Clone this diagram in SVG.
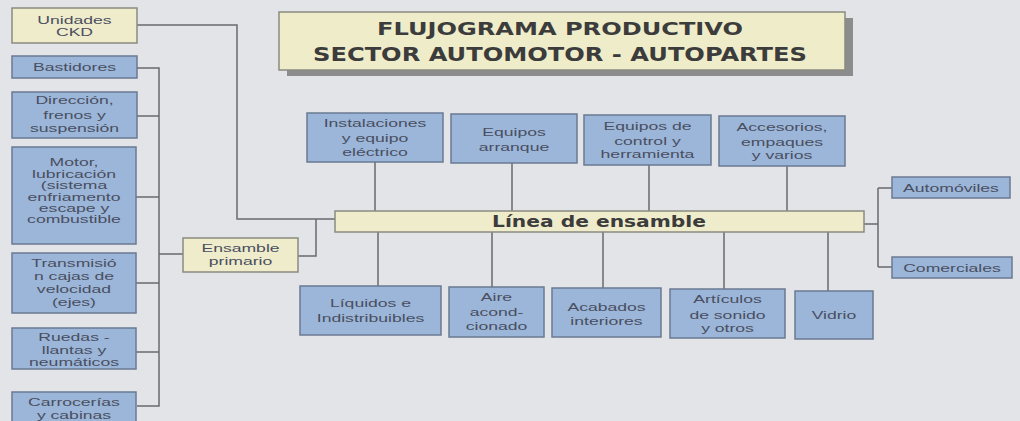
<svg xmlns="http://www.w3.org/2000/svg" width="1020" height="421" viewBox="0 0 1020 421">
<style>
.bg{fill:#e3e4e8}
.blue{fill:#9bb6d9;stroke:#6a7a92;stroke-width:1.5}
.yel{fill:#efeccb;stroke:#8a8a80;stroke-width:1.5}
.t{font-family:"Liberation Sans",Arial,sans-serif;font-size:11px;fill:#4a4e60;text-anchor:middle}
.conn path{fill:none;stroke:#6a6a6e;stroke-width:1.5}
.title{font-family:"DejaVu Sans","Liberation Sans",sans-serif;font-weight:bold;fill:#3c3c3c;text-anchor:middle}
</style>
<rect class="bg" x="0" y="0" width="1020" height="421"/>

<g id="connectors" class="conn">
<path d="M137,25 H237 V219 H335"/>
<path d="M298,256 H316 V219"/>
<path d="M137,68 H159 V406 H137"/>
<path d="M137,116 H159"/>
<path d="M136,197 H159"/>
<path d="M136,283 H159"/>
<path d="M136,352 H159"/>
<path d="M159,254 H183"/>
<path d="M375,162 V211"/>
<path d="M512,163 V211"/>
<path d="M649,165 V212"/>
<path d="M787,166 V212"/>
<path d="M378,231 V286"/>
<path d="M492,231 V287"/>
<path d="M603,232 V288"/>
<path d="M724,232 V289"/>
<path d="M828,232 V291"/>
<path d="M864,224 H878"/>
<path d="M878,188 V267"/>
<path d="M878,188 H892"/>
<path d="M878,267 H892"/>
</g>

<g id="title">
<rect x="287" y="18" width="566" height="58" fill="#8c8c8c"/>
<rect x="279" y="12" width="566" height="58" fill="#efedc9" stroke="#8a8a80" stroke-width="1.5"/>
<text class="title" x="560" y="35" font-size="17" textLength="366" lengthAdjust="spacingAndGlyphs">FLUJOGRAMA  PRODUCTIVO</text>
<text class="title" x="560" y="61" font-size="19" textLength="494" lengthAdjust="spacingAndGlyphs">SECTOR AUTOMOTOR  - AUTOPARTES</text>
</g>

<g id="ckd">
<rect class="yel" x="12" y="8" width="125" height="35"/>
<g transform="translate(74.5,0) scale(1.6,1)"><text class="t" x="0" y="24">Unidades</text><text class="t" x="0" y="36">CKD</text></g>
</g>
<g id="bastidores">
<rect class="blue" x="12" y="56" width="125" height="22"/>
<g transform="translate(74.5,0) scale(1.6,1)"><text class="t" x="0" y="71">Bastidores</text></g>
</g>
<g id="direccion">
<rect class="blue" x="12" y="92" width="125" height="46"/>
<g transform="translate(74.5,0) scale(1.6,1)"><text class="t" x="0" y="104">Dirección,</text><text class="t" x="0" y="119">frenos y</text><text class="t" x="0" y="132">suspensión</text></g>
</g>
<g id="motor">
<rect class="blue" x="12" y="147" width="124" height="97"/>
<g transform="translate(74,0) scale(1.6,1)"><text class="t" x="0" y="166">Motor,</text><text class="t" x="0" y="178">lubricación</text><text class="t" x="0" y="189">(sistema</text><text class="t" x="0" y="201">enfriamento</text><text class="t" x="0" y="212">escape y</text><text class="t" x="0" y="223">combustible</text></g>
</g>
<g id="transmision">
<rect class="blue" x="12" y="253" width="124" height="60"/>
<g transform="translate(74,0) scale(1.6,1)"><text class="t" x="0" y="267">Transmisió</text><text class="t" x="0" y="280">n cajas de</text><text class="t" x="0" y="293">velocidad</text><text class="t" x="0" y="306">(ejes)</text></g>
</g>
<g id="ruedas">
<rect class="blue" x="12" y="328" width="124" height="41"/>
<g transform="translate(74,0) scale(1.6,1)"><text class="t" x="0" y="341">Ruedas -</text><text class="t" x="0" y="354">llantas y</text><text class="t" x="0" y="366">neumáticos</text></g>
</g>
<g id="carrocerias">
<rect class="blue" x="12" y="392" width="124" height="35"/>
<g transform="translate(74,0) scale(1.6,1)"><text class="t" x="0" y="406">Carrocerías</text><text class="t" x="0" y="419">y cabinas</text></g>
</g>

<g id="ensamble-primario">
<rect class="yel" x="183" y="238" width="115" height="34"/>
<g transform="translate(240.5,0) scale(1.6,1)"><text class="t" x="0" y="252">Ensamble</text><text class="t" x="0" y="265">primario</text></g>
</g>

<g id="linea">
<rect class="yel" x="335" y="211" width="529" height="21"/>
<text class="title" x="599" y="227" font-size="16" textLength="214" lengthAdjust="spacingAndGlyphs" fill="#3a3a3a">Línea de ensamble</text>
</g>

<g id="instalaciones">
<rect class="blue" x="307" y="113" width="136" height="49"/>
<g transform="translate(375,0) scale(1.6,1)"><text class="t" x="0" y="127">Instalaciones</text><text class="t" x="0" y="142">y equipo</text><text class="t" x="0" y="156">eléctrico</text></g>
</g>
<g id="arranque">
<rect class="blue" x="451" y="114" width="126" height="49"/>
<g transform="translate(514,0) scale(1.6,1)"><text class="t" x="0" y="136">Equipos</text><text class="t" x="0" y="151">arranque</text></g>
</g>
<g id="control">
<rect class="blue" x="584" y="115" width="127" height="50"/>
<g transform="translate(647.5,0) scale(1.6,1)"><text class="t" x="0" y="130">Equipos de</text><text class="t" x="0" y="145">control y</text><text class="t" x="0" y="158">herramienta</text></g>
</g>
<g id="accesorios">
<rect class="blue" x="719" y="116" width="126" height="50"/>
<g transform="translate(782,0) scale(1.6,1)"><text class="t" x="0" y="131">Accesorios,</text><text class="t" x="0" y="146">empaques</text><text class="t" x="0" y="159">y varios</text></g>
</g>

<g id="liquidos">
<rect class="blue" x="300" y="286" width="141" height="49"/>
<g transform="translate(370.5,0) scale(1.6,1)"><text class="t" x="0" y="307">Líquidos e</text><text class="t" x="0" y="322">Indistribuibles</text></g>
</g>
<g id="aire">
<rect class="blue" x="449" y="287" width="95" height="50"/>
<g transform="translate(496.5,0) scale(1.6,1)"><text class="t" x="0" y="301">Aire</text><text class="t" x="0" y="316">acond-</text><text class="t" x="0" y="330">cionado</text></g>
</g>
<g id="acabados">
<rect class="blue" x="552" y="288" width="109" height="49"/>
<g transform="translate(606.5,0) scale(1.6,1)"><text class="t" x="0" y="311">Acabados</text><text class="t" x="0" y="325">interiores</text></g>
</g>
<g id="articulos">
<rect class="blue" x="670" y="289" width="115" height="49"/>
<g transform="translate(727.5,0) scale(1.6,1)"><text class="t" x="0" y="303">Artículos</text><text class="t" x="0" y="319">de  sonido</text><text class="t" x="0" y="332">y otros</text></g>
</g>
<g id="vidrio">
<rect class="blue" x="795" y="291" width="78" height="48"/>
<g transform="translate(834,0) scale(1.6,1)"><text class="t" x="0" y="319">Vidrio</text></g>
</g>

<g id="automoviles">
<rect class="blue" x="892" y="177" width="118" height="21"/>
<g transform="translate(951,0) scale(1.6,1)"><text class="t" x="0" y="192">Automóviles</text></g>
</g>
<g id="comerciales">
<rect class="blue" x="892" y="257" width="120" height="21"/>
<g transform="translate(952,0) scale(1.6,1)"><text class="t" x="0" y="272">Comerciales</text></g>
</g>
</svg>
